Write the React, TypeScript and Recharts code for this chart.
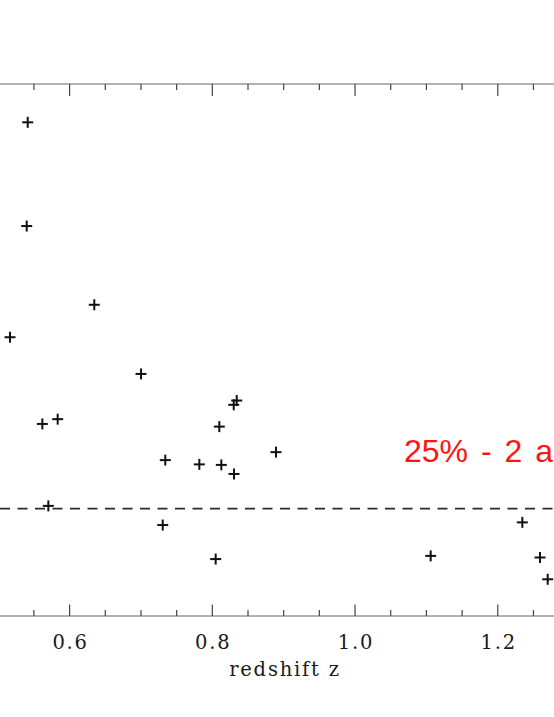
import React from 'react';
import { ScatterChart, Scatter, XAxis, YAxis, ReferenceLine, ReferenceDot, Label } from 'recharts';

// redshift of each source
const redshift = [
  0.5413, 0.5399, 0.6346, 0.5165, 0.7001, 0.5618, 0.5833, 0.8342, 0.8300, 0.8098, 0.7341,
  0.7818, 0.8126, 0.8304, 0.8892, 0.5702, 0.7305, 0.8047, 1.1060, 1.2344, 1.2592, 1.2700,
];
// measured quantity (vertical position, arbitrary units)
const measured = [
  92.8, 73.3, 58.5, 52.4, 45.5, 36.1, 37.0, 40.5, 39.7, 35.6, 29.3,
  28.5, 28.4, 26.7, 30.8, 20.7, 17.1, 10.7, 11.3, 17.6, 11.0, 6.9,
];
const xTicks = [0.55, 0.6, 0.65, 0.7, 0.75, 0.8, 0.85, 0.9, 0.95, 1.0, 1.05, 1.1, 1.15, 1.2, 1.25];
const majorTicks = [0.6, 0.8, 1.0, 1.2];
const xDomain = [0.50247, 1.2788];
const yDomain = [0, 100];
const threshold = 20.2;
const annotationText = '25% - 2 arcsec';
const annotationPos = { z: 1.0686, v: 28.9 };
const xTitle = 'redshift z';

const points = redshift.map((z, i) => ({ z, v: measured[i] }));

const isMajor = (v: number) => majorTicks.some((m) => Math.abs(m - v) < 1e-6);

const serif = '"DejaVu Serif", serif';

const BottomTick = (props: any) => {
  const { x, y, payload } = props;
  const v = payload.value as number;
  const major = isMajor(v);
  return (
    <g>
      <line x1={x} x2={x} y1={y} y2={y - (major ? 11.5 : 6)} stroke="#444" strokeWidth={1.2} />
      {major && (
        <text x={x + 1} y={y + 33} textAnchor="middle" fill="#1a1a1a" fontSize={19.5} fontFamily={serif} letterSpacing={1.8}>
          {v.toFixed(1)}
        </text>
      )}
    </g>
  );
};

const TopTick = (props: any) => {
  const { x, y, payload } = props;
  const v = payload.value as number;
  const major = isMajor(v);
  return <line x1={x} x2={x} y1={y} y2={y + (major ? 12 : 6)} stroke="#444" strokeWidth={1.2} />;
};

const Plus = (props: any) => {
  const { cx, cy } = props;
  return (
    <g>
      <line x1={cx - 5.5} x2={cx + 5.5} y1={cy} y2={cy} stroke="#111" strokeWidth={2} />
      <line x1={cx} x2={cx} y1={cy - 5.5} y2={cy + 5.5} stroke="#111" strokeWidth={2} />
    </g>
  );
};

export default function App() {
  return (
    <div style={{ position: 'absolute', left: 0, top: 0, width: 554, height: 717, overflow: 'hidden', background: '#fff' }}>
      <ScatterChart width={554} height={717} margin={{ top: 64, right: 0, bottom: 31, left: 0 }}>
        <XAxis
          xAxisId="top"
          orientation="top"
          type="number"
          dataKey="z"
          domain={xDomain}
          allowDataOverflow
          ticks={xTicks}
          height={20}
          tickSize={0}
          tickMargin={0}
          tickLine={false}
          tick={<TopTick />}
          axisLine={{ stroke: '#666', strokeWidth: 1.2 }}
          interval={0}
        />
        <XAxis
          xAxisId="bottom"
          orientation="bottom"
          type="number"
          dataKey="z"
          domain={xDomain}
          allowDataOverflow
          ticks={xTicks}
          height={70}
          tickSize={0}
          tickMargin={0}
          tickLine={false}
          tick={<BottomTick />}
          axisLine={{ stroke: '#666', strokeWidth: 1.2 }}
          interval={0}
        >
          <Label
            content={(p: any) => {
              const vb = p.viewBox || { x: 0, y: 616, width: 554 };
              return (
                <text
                  x={vb.x + vb.width / 2 + 8}
                  y={vb.y + 59.5}
                  textAnchor="middle"
                  fill="#1a1a1a"
                  fontSize={19.5}
                  fontFamily={serif}
                  letterSpacing={1.8}
                >
                  {xTitle}
                </text>
              );
            }}
          />
        </XAxis>
        <YAxis type="number" dataKey="v" domain={yDomain} hide width={0} allowDataOverflow />
        <ReferenceLine
          xAxisId="bottom"
          y={threshold}
          stroke="#2a2a2a"
          strokeWidth={1.8}
          strokeDasharray="10 7.5"
        />
        <Scatter
          xAxisId="bottom"
          data={points}
          shape={<Plus />}
          isAnimationActive={false}
        />
        <ReferenceDot
          xAxisId="bottom"
          x={annotationPos.z}
          y={annotationPos.v}
          r={0}
          fill="none"
          stroke="none"
          ifOverflow="visible"
          label={(p: any) => {
            const vb = p.viewBox || { x: 0, y: 0 };
            return (
              <text
                x={vb.x}
                y={vb.y}
                fill="#ff1414"
                fontSize={32}
                fontFamily='"Liberation Sans", Arial, sans-serif'
                style={{ wordSpacing: '4px' }}
              >
                {annotationText}
              </text>
            );
          }}
        />
      </ScatterChart>
    </div>
  );
}
